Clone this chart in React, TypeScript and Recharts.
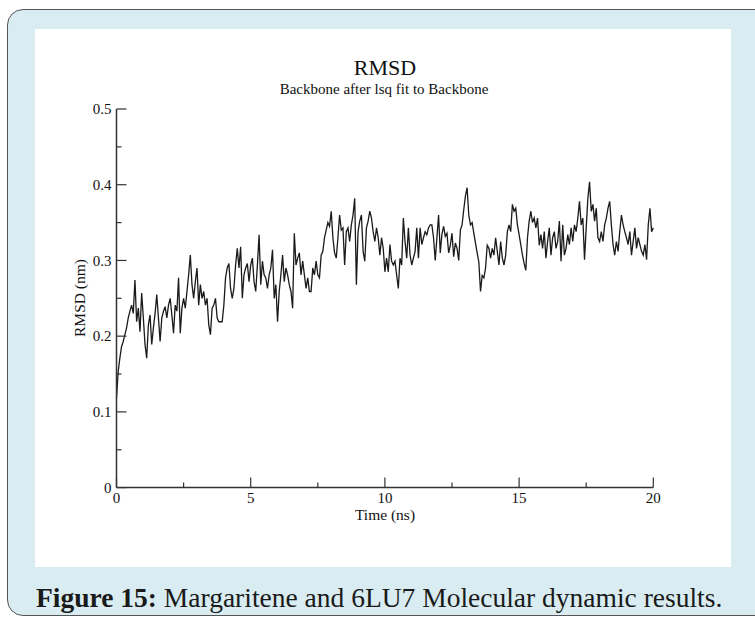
import { LineChart, Line, XAxis, YAxis } from "recharts";

// backbone RMSD (nm), one frame every TIME_STEP ns from 0 to 20 ns
const TIME_STEP = 0.0625;

const rmsd = [
  0.118, 0.153, 0.171, 0.186, 0.193, 0.202, 0.211, 0.224, 0.233, 0.241,
  0.230, 0.274, 0.219, 0.237, 0.206, 0.257, 0.224, 0.189, 0.171, 0.215,
  0.228, 0.189, 0.211, 0.230, 0.255, 0.224, 0.193, 0.224, 0.233, 0.239,
  0.224, 0.241, 0.250, 0.228, 0.204, 0.241, 0.233, 0.277, 0.204, 0.237,
  0.250, 0.237, 0.259, 0.281, 0.307, 0.268, 0.250, 0.272, 0.290, 0.241,
  0.268, 0.250, 0.259, 0.241, 0.250, 0.215, 0.202, 0.237, 0.241, 0.250,
  0.224, 0.219,
  0.219, 0.219, 0.241, 0.277, 0.290, 0.296, 0.263, 0.250, 0.263, 0.294,
  0.316, 0.290, 0.318, 0.250, 0.281, 0.290, 0.296, 0.272, 0.294, 0.303,
  0.272, 0.259, 0.294, 0.334, 0.268, 0.299, 0.281, 0.277, 0.263, 0.281,
  0.290, 0.314, 0.250, 0.268, 0.219, 0.259, 0.281, 0.307, 0.272, 0.290,
  0.281, 0.268, 0.259, 0.237, 0.336, 0.294, 0.303, 0.310, 0.281, 0.299,
  0.281, 0.263, 0.277, 0.259, 0.259, 0.290, 0.281, 0.299, 0.281, 0.277,
  0.307, 0.312, 0.330,
  0.340, 0.350, 0.345, 0.365, 0.330, 0.310, 0.303, 0.330, 0.360, 0.340,
  0.343, 0.294, 0.338, 0.343, 0.325, 0.347, 0.360, 0.382, 0.268, 0.338,
  0.352, 0.360, 0.312, 0.299, 0.343, 0.352, 0.365, 0.356, 0.338, 0.325,
  0.343, 0.330, 0.307, 0.330, 0.316, 0.285, 0.303, 0.285, 0.321, 0.299,
  0.294, 0.299, 0.281, 0.263, 0.303, 0.294, 0.356, 0.325, 0.303, 0.343,
  0.307, 0.294, 0.303, 0.312, 0.343, 0.303, 0.343, 0.321, 0.330, 0.338,
  0.334, 0.343, 0.347, 0.347,
  0.330, 0.300, 0.330, 0.360, 0.310, 0.335, 0.345, 0.332, 0.336, 0.310,
  0.320, 0.336, 0.305, 0.323, 0.316, 0.300, 0.340, 0.347, 0.367, 0.385,
  0.396, 0.360, 0.347, 0.350, 0.336, 0.323, 0.310, 0.298, 0.259, 0.280,
  0.277, 0.290, 0.320, 0.316, 0.303, 0.316, 0.307, 0.330, 0.312, 0.294,
  0.325, 0.303, 0.294, 0.307, 0.338, 0.347, 0.338, 0.374, 0.365, 0.369,
  0.347, 0.334, 0.321, 0.307, 0.296, 0.287, 0.330, 0.352, 0.365, 0.350,
  0.356, 0.343, 0.356, 0.320,
  0.334, 0.316, 0.338, 0.303, 0.325, 0.343, 0.307, 0.330, 0.338, 0.316,
  0.325, 0.352, 0.299, 0.347, 0.307, 0.316, 0.334, 0.321, 0.343, 0.325,
  0.347, 0.338, 0.356, 0.378, 0.347, 0.356, 0.301, 0.343, 0.382, 0.404,
  0.365, 0.374, 0.352, 0.369, 0.330, 0.325, 0.338, 0.325, 0.347, 0.356,
  0.369, 0.378, 0.347, 0.321, 0.307, 0.325, 0.312, 0.338, 0.360, 0.347,
  0.338, 0.330, 0.321, 0.338, 0.307, 0.325, 0.343, 0.316, 0.330, 0.321,
  0.312, 0.307, 0.321, 0.301, 0.347, 0.369, 0.338, 0.343,
];

const xTicks = [0, 2.5, 5, 7.5, 10, 12.5, 15, 17.5, 20];
const xLabels = [0, 5, 10, 15, 20];
const yTicks = [0, 0.05, 0.1, 0.15, 0.2, 0.25, 0.3, 0.35, 0.4, 0.45, 0.5];
const yLabels = [0, 0.1, 0.2, 0.3, 0.4, 0.5];

const data = rmsd.map((v, i) => ({ time: i * TIME_STEP, rmsd: v }));

const SERIF = '"Liberation Serif", "Times New Roman", serif';
const FRAME = "#333";
const MAJOR = 10;
const MINOR = 5;
const GAP = 5;
const TICK_FONT = 15;

const has = (list: number[], v: number) => list.some((l) => Math.abs(l - v) < 1e-6);

function BottomTick({ x, y, payload }: any) {
  const major = has(xLabels, payload.value);
  const axisY = y - GAP;
  return (
    <g>
      <line x1={x} x2={x} y1={axisY} y2={axisY - (major ? MAJOR : MINOR)} stroke={FRAME} strokeWidth={1.2} />
      {major && (
        <text x={x} y={y} dy="0.71em" textAnchor="middle" fontSize={TICK_FONT} fontFamily={SERIF} fill="#111">
          {payload.value}
        </text>
      )}
    </g>
  );
}

function LeftTick({ x, y, payload }: any) {
  const major = has(yLabels, payload.value);
  const axisX = x + GAP;
  return (
    <g>
      <line x1={axisX} x2={axisX + (major ? MAJOR : MINOR)} y1={y} y2={y} stroke={FRAME} strokeWidth={1.2} />
      {major && (
        <text x={x} y={y} dy="0.35em" textAnchor="end" fontSize={TICK_FONT} fontFamily={SERIF} fill="#111">
          {payload.value === 0 ? "0" : payload.value.toFixed(1)}
        </text>
      )}
    </g>
  );
}

function TopTick({ x, y, payload }: any) {
  const len = has(xLabels, payload.value) ? MAJOR : MINOR;
  return <line x1={x} x2={x} y1={y} y2={y + len} stroke={FRAME} strokeWidth={1.2} />;
}

function RightTick({ x, y, payload }: any) {
  const len = has(yLabels, payload.value) ? MAJOR : MINOR;
  return <line x1={x} x2={x - len} y1={y} y2={y} stroke={FRAME} strokeWidth={1.2} />;
}

const abs = (left: number, top: number, extra: any = {}) => ({
  position: "absolute" as const,
  left,
  top,
  transform: "translate(-50%, -50%)",
  whiteSpace: "nowrap" as const,
  lineHeight: 1,
  color: "#111",
  ...extra,
});

export default function App() {
  return (
    <div
      style={{
        position: "absolute",
        left: 0,
        top: 0,
        width: 755,
        height: 617,
        overflow: "hidden",
        background: "#fff",
        fontFamily: SERIF,
      }}
    >
      <div
        style={{
          position: "absolute",
          left: 7,
          top: 9,
          width: 780,
          height: 607,
          background: "#d9ecf1",
          border: "1.5px solid #555",
          borderRadius: 16,
          boxSizing: "border-box",
        }}
      />
      <div style={{ position: "absolute", left: 35, top: 29, width: 696, height: 538, background: "#fff" }} />

      <div style={abs(385, 68, { fontSize: 22 })}>RMSD</div>
      <div style={abs(384, 89, { fontSize: 15 })}>Backbone after lsq fit to Backbone</div>
      <div style={abs(385, 515, { fontSize: 15.5 })}>Time (ns)</div>
      <div style={abs(80, 298, { fontSize: 15.5, transform: "translate(-50%, -50%) rotate(-90deg)" })}>
        RMSD (nm)
      </div>

      <div style={{ position: "absolute", left: 0, top: 0 }}>
        <LineChart
          width={755}
          height={617}
          data={data}
          margin={{ top: 109, right: 101.7, bottom: 109.4, left: 76.5 }}
        >
          <XAxis
            xAxisId="bottom"
            dataKey="time"
            type="number"
            domain={[0, 20]}
            ticks={xTicks}
            interval={0}
            height={20}
            tickSize={0}
            tickMargin={GAP}
            tickLine={false}
            axisLine={{ stroke: FRAME, strokeWidth: 1.5 }}
            tick={<BottomTick />}
          />
          <XAxis
            xAxisId="top"
            orientation="top"
            dataKey="time"
            type="number"
            domain={[0, 20]}
            ticks={xTicks}
            interval={0}
            height={0}
            tickSize={0}
            tickMargin={0}
            tickLine={false}
            axisLine={{ stroke: FRAME, strokeWidth: 1.5 }}
            tick={<TopTick />}
          />
          <YAxis
            yAxisId="left"
            type="number"
            domain={[0, 0.5]}
            ticks={yTicks}
            interval={0}
            width={40}
            tickSize={0}
            tickMargin={GAP}
            tickLine={false}
            axisLine={{ stroke: FRAME, strokeWidth: 1.5 }}
            tick={<LeftTick />}
          />
          <YAxis
            yAxisId="right"
            orientation="right"
            type="number"
            domain={[0, 0.5]}
            ticks={yTicks}
            interval={0}
            width={0}
            tickSize={0}
            tickMargin={0}
            tickLine={false}
            axisLine={{ stroke: FRAME, strokeWidth: 1.5 }}
            tick={<RightTick />}
          />
          <Line
            xAxisId="top"
            yAxisId="right"
            dataKey="rmsd"
            stroke="none"
            dot={false}
            activeDot={false}
            isAnimationActive={false}
          />
          <Line
            xAxisId="bottom"
            yAxisId="left"
            dataKey="rmsd"
            type="linear"
            stroke="#1a1a1a"
            strokeWidth={1.3}
            dot={false}
            activeDot={false}
            isAnimationActive={false}
          />
        </LineChart>
      </div>

      <div style={{ position: "absolute", left: 36, top: 584, fontSize: 27.5, lineHeight: 1, whiteSpace: "nowrap", color: "#1a1a1a" }}>
        <b>Figure 15:</b> Margaritene and 6LU7 Molecular dynamic results.
      </div>
    </div>
  );
}
